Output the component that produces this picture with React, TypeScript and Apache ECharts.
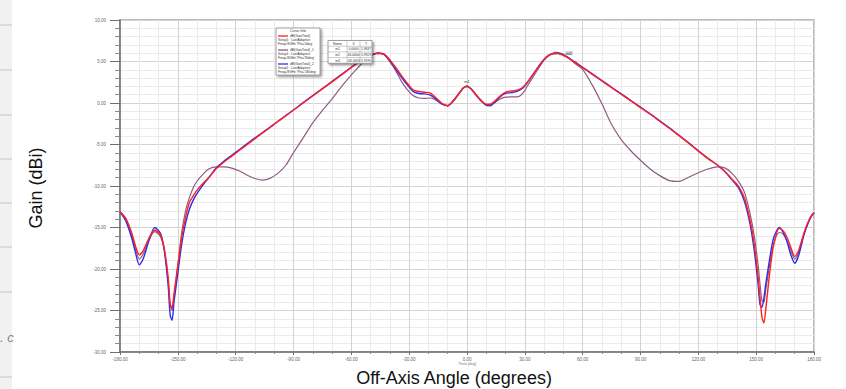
import React, { useEffect, useRef } from "react";
import * as echarts from "echarts";

// Theta angles (deg) shared by all three cuts
const ANGLES = [
  -180, -177, -174, -172, -170, -168, -165, -162, -159, -157, -155, -154, -153, -152, -150,
  -148, -146, -144, -142, -140, -137, -134, -130,
  -126, -122, -118, -114, -110, -106, -102, -98, -94, -90,
  -85, -80, -75, -70, -65, -60, -56, -52, -49, -46,
  -43, -40, -37, -34, -31, -28, -25, -22, -19, -16, -13, -10,
  -7, -4, -2, 0, 2, 4, 7, 10, 12, 14,
  17, 20, 23, 26, 29, 32, 35, 38, 41, 44, 47,
  50, 53, 56, 60, 65, 70, 75, 80, 85, 90,
  95, 100, 105, 110, 115, 120, 125, 130,
  134, 138, 141, 144, 147, 149, 151, 152, 153, 154, 155,
  157, 159, 162, 164, 166, 168, 170, 172, 175, 178, 180,
];

// dB(GainTotal) - red
const GAIN_TOTAL = [
  -13.1, -13.9, -15.6, -17.2, -18.3, -17.8, -16.3, -15.3, -15.9, -17.6, -21.0, -24.2, -24.7, -23.0, -19.6,
  -16.2, -13.8, -12.0, -11.2, -10.5, -9.7, -9.0, -7.9,
  -7.1, -6.4, -5.7, -5.0, -4.3, -3.6, -2.9, -2.2, -1.55, -0.85,
  0.0, 0.85, 1.7, 2.55, 3.4, 4.3, 4.95, 5.5, 5.8, 6.0,
  5.9, 5.2, 4.3, 3.3, 2.4, 1.6, 1.38, 1.3, 1.2, 0.6, -0.05, -0.3,
  0.3, 1.2, 1.8, 2.0, 1.75, 1.2, 0.4, -0.15, -0.15, 0.15,
  0.8, 1.3, 1.45, 1.55, 1.9, 2.7, 3.7, 4.6, 5.5, 5.9, 6.0,
  5.8, 5.35, 4.9, 4.25, 3.45, 2.65, 1.85, 1.05, 0.25, -0.55,
  -1.35, -2.2, -3.05, -3.95, -4.85, -5.8, -6.7, -7.5,
  -8.3, -9.3, -10.1, -11.5, -14.3, -17.0, -21.0, -23.5, -25.8, -26.5, -24.8,
  -20.5, -17.2, -15.1, -15.4, -16.2, -17.4, -18.5, -17.8, -15.5, -13.8, -13.2,
];

// dB(GainTotal)_1 - mauve
const GAIN_TOTAL_1 = [
  -13.1, -14.0, -15.9, -17.6, -18.8, -18.2, -16.5, -15.5, -16.1, -17.8, -21.5, -24.3, -25.0, -23.4, -19.5,
  -15.6, -13.0, -11.4, -10.2, -9.4, -8.6, -7.95, -7.7,
  -7.7, -7.85, -8.2, -8.7, -9.1, -9.3, -9.05, -8.45, -7.5, -6.0,
  -4.2, -2.4, -0.9, 0.5, 2.0, 3.4, 4.4, 5.4, 5.85, 6.0,
  5.8, 4.95, 3.9, 2.6, 1.6, 0.9, 0.6, 0.55, 0.6, 0.35, -0.1, -0.35,
  0.2, 1.15, 1.75, 2.0, 1.7, 1.1, 0.3, -0.2, -0.25, 0.0,
  0.45, 0.7, 0.75, 0.75, 1.2, 2.3, 3.4, 4.5, 5.4, 5.9, 5.95,
  5.7, 5.35, 4.75, 4.05, 2.15, -0.1, -2.6, -4.4, -5.75, -6.9,
  -7.95, -8.75, -9.35, -9.45, -8.95, -8.4, -7.95, -7.7,
  -7.85, -8.6, -9.5, -10.8, -13.5, -16.0, -19.5, -21.8, -23.8, -24.0, -22.5,
  -19.5, -17.0, -15.6, -15.8, -16.6, -17.8, -18.8, -18.0, -15.7, -13.9, -13.2,
];

// dB(GainTotal)_2 - blue
const GAIN_TOTAL_2 = [
  -13.1, -14.2, -16.2, -18.0, -19.5, -18.8, -16.6, -15.0, -15.7, -17.8, -22.0, -25.5, -26.2, -24.0, -20.5,
  -17.0, -14.5, -12.8, -11.7, -10.9, -9.9, -9.0, -7.8,
  -7.0, -6.3, -5.6, -4.9, -4.2, -3.55, -2.9, -2.2, -1.5, -0.85,
  0.05, 0.9, 1.75, 2.6, 3.45, 4.3, 4.95, 5.5, 5.85, 6.0,
  5.85, 5.1, 4.1, 3.1, 2.2, 1.4, 1.15, 1.1, 0.95, 0.45, -0.15, -0.35,
  0.3, 1.2, 1.8, 2.0, 1.75, 1.2, 0.35, -0.3, -0.35, 0.0,
  0.7, 1.15, 1.25, 1.4, 1.8, 2.7, 3.7, 4.7, 5.5, 5.95, 6.05,
  5.85, 5.4, 4.95, 4.3, 3.5, 2.7, 1.9, 1.1, 0.3, -0.5,
  -1.3, -2.15, -3.0, -3.9, -4.8, -5.75, -6.65, -7.5,
  -8.3, -9.4, -10.3, -11.9, -14.8, -17.8, -21.8, -24.3, -24.6, -23.5, -21.8,
  -18.8, -16.3, -15.0, -15.6, -16.7, -18.3, -19.3, -18.4, -15.7, -13.9, -13.2,
];

const SERIES_NAMES = ["dB(GainTotal)", "dB(GainTotal)_1", "dB(GainTotal)_2"];
const SERIES_SETUP = ["Setup1 : LastAdaptive", "Setup1 : LastAdaptive", "Setup1 : LastAdaptive"];
const SERIES_FREQ = ["Freq='8GHz' Phi='0deg'", "Freq='8GHz' Phi='90deg'", "Freq='8GHz' Phi='180deg'"];
const SERIES_COLORS = ["#ff2020", "#8f5c80", "#2f2fe8"];

const MARKER_NAMES = ["m1", "m2", "m3"];
const MARKER_X = [0, 46, -46];
const MARKER_Y = [1.9637, 5.9929, 5.9196];

const X_MIN = -180, X_MAX = 180, X_STEP = 30;
const Y_MIN = -30, Y_MAX = 10, Y_STEP = 5;

const FONT = "Liberation Sans, Arial, sans-serif";

export default function App() {
  const ref = useRef<HTMLDivElement>(null);

  useEffect(() => {
    if (!ref.current) return;
    const chart = echarts.init(ref.current, undefined, { renderer: "svg" });

    const pairs = (vals: number[]) => ANGLES.map((a, i) => [a, vals[i]]);
    const datasets = [GAIN_TOTAL, GAIN_TOTAL_1, GAIN_TOTAL_2];

    const mkSeries = (idx: number, z: number, width: number) => ({
      type: "line",
      name: SERIES_NAMES[idx],
      data: pairs(datasets[idx]),
      showSymbol: false,
      smooth: 0.25,
      z,
      lineStyle: { color: SERIES_COLORS[idx], width },
      itemStyle: { color: SERIES_COLORS[idx] },
    });

    const redSeries: any = mkSeries(0, 5, 1.4);
    redSeries.markPoint = {
      symbol: "triangle",
      symbolSize: 3,
      symbolRotate: 180,
      itemStyle: { color: "#666" },
      data: MARKER_NAMES.map((n, i) => ({
        name: n,
        coord: [MARKER_X[i], MARKER_Y[i]],
        label: {
          show: i < 2,
          position: i === 1 ? "right" : "top",
          distance: i === 1 ? 8 : 2,
          formatter: "{b}",
          fontSize: 4,
          color: "#333",
          backgroundColor: i === 1 ? "#cfcfcf" : "transparent",
          padding: [0, 1],
          fontFamily: FONT,
        },
      })),
    };

    // legend box (Curve Info)
    const LX = 276, LY = 28, LW = 44, LH = 47;
    const legendEls: any[] = [
      {
        type: "rect",
        shape: { x: LX, y: LY, width: LW, height: LH },
        style: { fill: "#fff", stroke: "#8a8a8a", lineWidth: 0.8, shadowBlur: 2, shadowOffsetX: 1.5, shadowOffsetY: 1.5, shadowColor: "rgba(0,0,0,0.45)" },
        z: 100,
      },
      {
        type: "text",
        x: LX + LW / 2, y: LY + 3,
        style: { text: "Curve Info", fontSize: 3.5, fill: "#333", align: "center", verticalAlign: "middle", fontFamily: FONT },
        z: 101,
      },
    ];
    SERIES_NAMES.forEach((n, i) => {
      const by = LY + 8 + i * 14;
      legendEls.push(
        { type: "line", shape: { x1: LX + 2, y1: by, x2: LX + 12, y2: by }, style: { stroke: SERIES_COLORS[i], lineWidth: 1.3 }, z: 101 },
        { type: "text", x: LX + 14, y: by, style: { text: n, fontSize: 3.3, fill: "#333", align: "left", verticalAlign: "middle", fontFamily: FONT }, z: 101 },
        { type: "text", x: LX + 2, y: by + 4, style: { text: SERIES_SETUP[i], fontSize: 3.3, fill: "#333", align: "left", verticalAlign: "middle", fontFamily: FONT }, z: 101 },
        { type: "text", x: LX + 2, y: by + 8, style: { text: SERIES_FREQ[i], fontSize: 3.3, fill: "#333", align: "left", verticalAlign: "middle", fontFamily: FONT }, z: 101 },
      );
    });

    // marker table
    const TX = 328, TY = 40.5, TW = 44, RH = 5.7;
    const colX = [TX, TX + 19, TX + 32, TX + TW];
    const tableEls: any[] = [
      {
        type: "rect",
        shape: { x: TX, y: TY, width: TW, height: RH * 4 },
        style: { fill: "#fff", stroke: "#8a8a8a", lineWidth: 0.8, shadowBlur: 2, shadowOffsetX: 1.5, shadowOffsetY: 1.5, shadowColor: "rgba(0,0,0,0.45)" },
        z: 100,
      },
    ];
    for (let r = 1; r < 4; r++) {
      tableEls.push({ type: "line", shape: { x1: TX, y1: TY + r * RH, x2: TX + TW, y2: TY + r * RH }, style: { stroke: "#999", lineWidth: 0.5 }, z: 101 });
    }
    for (let c = 1; c < 3; c++) {
      tableEls.push({ type: "line", shape: { x1: colX[c], y1: TY, x2: colX[c], y2: TY + RH * 4 }, style: { stroke: "#999", lineWidth: 0.5 }, z: 101 });
    }
    const rows = [["Name", "X", "Y"], ...MARKER_NAMES.map((n, i) => [n, MARKER_X[i].toFixed(4), MARKER_Y[i].toFixed(4)])];
    rows.forEach((row, r) => {
      row.forEach((t, c) => {
        tableEls.push({
          type: "text",
          x: (colX[c] + colX[c + 1]) / 2,
          y: TY + r * RH + RH / 2,
          style: { text: t, fontSize: 3.3, fill: "#333", align: "center", verticalAlign: "middle", fontFamily: FONT },
          z: 102,
        });
      });
    });

    // left strip artifacts from the page screenshot
    const stripEls: any[] = [
      { type: "rect", shape: { x: 0, y: 0, width: 12, height: 389 }, style: { fill: "#f1f1f1" }, z: 0 },
    ];
    [25, 70, 115, 159, 203, 247, 292, 377].forEach((yy) => {
      stripEls.push({ type: "line", shape: { x1: 0, y1: yy, x2: 12, y2: yy }, style: { stroke: "#c4c4c4", lineWidth: 1 }, z: 1 });
    });
    stripEls.push({ type: "text", x: 0, y: 337, style: { text: ". c", fontSize: 13, fontStyle: "italic", fill: "#888", verticalAlign: "middle", fontFamily: FONT }, z: 1 });

    const option: any = {
      animation: false,
      backgroundColor: "#ffffff",
      grid: {
        left: 120, right: 32, top: 20, bottom: 37,
        show: true, borderColor: "#a6a6a6", borderWidth: 1.5, backgroundColor: "transparent",
      },
      xAxis: {
        type: "value", min: X_MIN, max: X_MAX, interval: X_STEP,
        axisLine: { onZero: false, lineStyle: { color: "#6f6f6f", width: 1.5 } },
        axisTick: { show: true, length: 3, lineStyle: { color: "#707070" } },
        minorTick: { show: true, splitNumber: 3, length: 2, lineStyle: { color: "#8a8a8a" } },
        axisLabel: { fontSize: 4.5, color: "#666", margin: 5, fontFamily: FONT, formatter: (v: number) => v.toFixed(2) },
        splitLine: { show: true, lineStyle: { color: "#d2d2d2", width: 1 } },
        minorSplitLine: { show: true, lineStyle: { color: "#ebebeb", width: 1 } },
      },
      yAxis: {
        type: "value", min: Y_MIN, max: Y_MAX, interval: Y_STEP,
        axisLine: { onZero: false, lineStyle: { color: "#6f6f6f", width: 1.5 } },
        axisTick: { show: true, length: 10, lineStyle: { color: "#707070" } },
        minorTick: { show: true, splitNumber: 5, length: 5, lineStyle: { color: "#8a8a8a" } },
        axisLabel: { fontSize: 4.5, color: "#666", margin: 14, fontFamily: FONT, formatter: (v: number) => v.toFixed(2) },
        splitLine: { show: true, lineStyle: { color: "#d2d2d2", width: 1 } },
        minorSplitLine: { show: true, lineStyle: { color: "#ebebeb", width: 1 } },
      },
      graphic: [
        ...stripEls,
        {
          type: "text", x: 36, y: 188, rotation: Math.PI / 2,
          style: { text: "Gain (dBi)", fontSize: 18, fill: "#111", align: "center", verticalAlign: "middle", fontFamily: FONT },
          z: 50,
        },
        {
          type: "text", x: 454, y: 378,
          style: { text: "Off-Axis Angle (degrees)", fontSize: 18, fill: "#111", align: "center", verticalAlign: "middle", fontFamily: FONT },
          z: 50,
        },
        {
          type: "text", x: 467, y: 364,
          style: { text: "Theta [deg]", fontSize: 3.5, fill: "#777", align: "center", verticalAlign: "middle", fontFamily: FONT },
          z: 50,
        },
        ...legendEls,
        ...tableEls,
      ],
      series: [mkSeries(1, 3, 1.2), mkSeries(2, 4, 1.4), redSeries],
    };

    chart.setOption(option);
    return () => chart.dispose();
  }, []);

  return (
    <div
      ref={ref}
      style={{ position: "fixed", left: 0, top: 0, width: 846, height: 389, background: "#fff" }}
    />
  );
}
